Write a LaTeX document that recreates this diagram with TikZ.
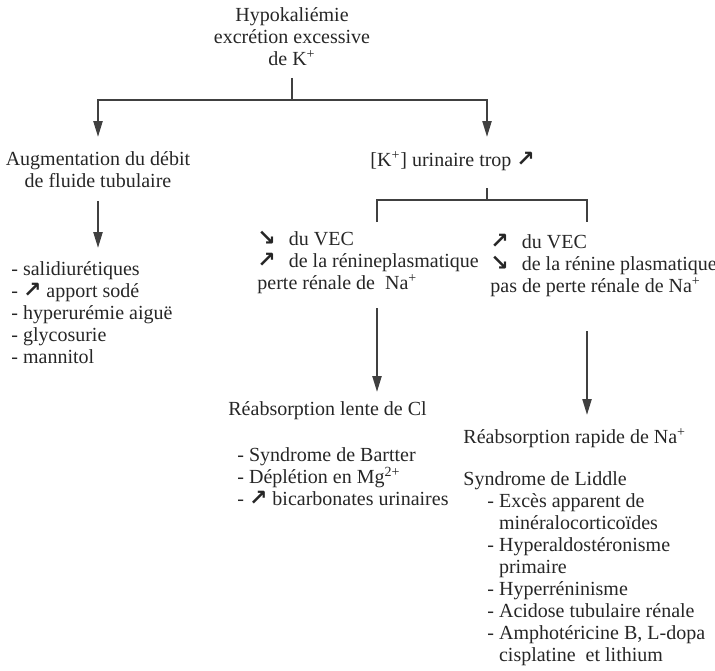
\documentclass[tikz,border=0pt]{standalone}
\usepackage{fontspec}
\setmainfont{Liberation Serif}
\newfontfamily\arrowfont{DejaVu Sans}
\usepackage{tikz}
\usetikzlibrary{arrows.meta, positioning, calc}

\newcommand{\hausse}{{\arrowfont\bfseries\fontsize{11}{11}\selectfont ↗}}
\newcommand{\baisse}{{\arrowfont\bfseries\fontsize{11}{11}\selectfont ↘}}

\begin{document}
\begin{tikzpicture}[
            x=0.5pt, y=-0.5pt,
            every node/.style={inner sep=0pt, text=black!85},
            txt/.style={align=left, font=\fontsize{10}{11}\selectfont},
            ctxt/.style={align=center, font=\fontsize{10}{11}\selectfont},
            link/.style={draw=black!75, line width=1.1pt},
            arr/.style={link, -{Triangle[length=8pt, width=4.5pt]}}
        ]
        \useasboundingbox (0,0) rectangle (715,670);

        \node[ctxt, anchor=north] (hypo) at (292,7) {Hypokaliémie\\excrétion excessive\\de K\textsuperscript{+}};
        \coordinate (split) at (292,100);

        % left branch
        \node[ctxt, anchor=north] (augm) at (98,151) {Augmentation du débit\\de fluide tubulaire};
        \node[txt, anchor=north west] (causes) at (11,261) {- salidiurétiques\\- \hausse{} apport sodé\\- hyperurémie aiguë\\- glycosurie\\- mannitol};

        % right branch
        \coordinate (kin) at (487,137);
        \node[txt, anchor=north west] (kuri) at (370,151) {[K\textsuperscript{+}] urinaire trop \hausse};
        \coordinate (kfork) at (487,200);
        \coordinate (lcorner) at (377,222);
        \coordinate (rcorner) at (587,222);

        \node[txt, anchor=north west] (vecdown) at (257,231) {\baisse\hspace{4pt} du VEC\\\hausse\hspace{4pt} de la rénineplasmatique\\perte rénale de\ \ Na\textsuperscript{+}};
        \node[txt, anchor=north west] (vecup) at (490,234) {\hausse\hspace{4pt} du VEC\\\baisse\hspace{4pt} de la rénine plasmatique\\pas de perte rénale de Na\textsuperscript{+}};

        \node[txt, anchor=north west] (cl) at (228,401) {Réabsorption lente de Cl};
        \node[txt, anchor=north west] (bartter) at (237,447) {- Syndrome de Bartter\\- Déplétion en Mg\textsuperscript{2+}\\- \hausse{} bicarbonates urinaires};

        \node[txt, anchor=north west] (na) at (463,428) {Réabsorption rapide de Na\textsuperscript{+}};
        \node[txt, anchor=north west] (liddle) at (463,471) {Syndrome de Liddle\\
            \hspace*{12pt}- Excès apparent de\\
            \hspace*{12pt}\hphantom{- }minéralocorticoïdes\\
            \hspace*{12pt}- Hyperaldostéronisme\\
            \hspace*{12pt}\hphantom{- }primaire\\
            \hspace*{12pt}- Hyperréninisme\\
            \hspace*{12pt}- Acidose tubulaire rénale\\
            \hspace*{12pt}- Amphotéricine B, L-dopa\\
            \hspace*{12pt}\hphantom{- }cisplatine\ \ et lithium};

        % connectors
        \draw[link, shorten <=6pt] (hypo.south) -- (split);
        \draw[arr, shorten >=7pt] (split) -| (augm.north);
        \draw[arr] (split) -| (kin);
        \draw[arr, shorten <=6.5pt, shorten >=6.5pt] (augm.south) -- (augm.south |- causes.north);

        \draw[link] (kuri.south -| kfork) ++(0,17) -- (kfork);
        \draw[link] (lcorner) |- (kfork) -| (rcorner);

        \draw[arr, shorten <=7pt, shorten >=4.5pt] (vecdown.south -| lcorner) -- (cl.north -| lcorner);
        \draw[arr, shorten <=17pt, shorten >=6.5pt] (vecup.south -| rcorner) -- (na.north -| rcorner);

    \end{tikzpicture}
\end{document}
